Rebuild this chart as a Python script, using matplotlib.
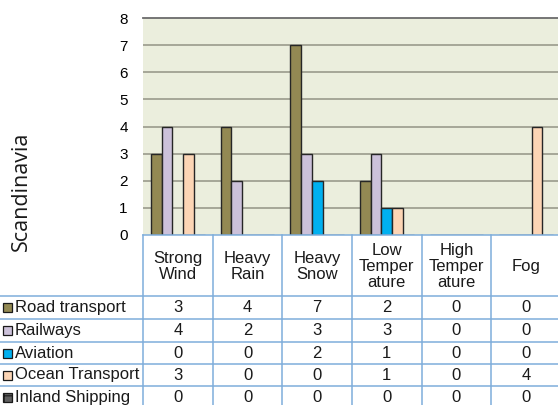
import matplotlib
matplotlib.use("Agg")
import matplotlib.pyplot as plt
from matplotlib.patches import Rectangle
from matplotlib.lines import Line2D
import numpy as np

# ---- data ----
categories = ["Strong\nWind", "Heavy\nRain", "Heavy\nSnow", "Low\nTemper\nature", "High\nTemper\nature", "Fog"]
series_names = ["Road transport", "Railways", "Aviation", "Ocean Transport", "Inland Shipping"]
road_transport = [3, 4, 7, 2, 0, 0]
railways = [4, 2, 3, 3, 0, 0]
aviation = [0, 0, 2, 1, 0, 0]
ocean_transport = [3, 0, 0, 1, 0, 4]
inland_shipping = [0, 0, 0, 0, 0, 0]
y_ticks = [0, 1, 2, 3, 4, 5, 6, 7, 8]
y_label = "Scandinavia"

series_values = [road_transport, railways, aviation, ocean_transport, inland_shipping]
colors = ["#938953", "#CCC1DA", "#00B0F0", "#FCD5B5", "#5E5E5E"]

W, H = 558, 405
fig = plt.figure(figsize=(W / 100, H / 100), dpi=100)
plt.rcParams["font.family"] = ["Liberation Sans", "DejaVu Sans"]
plt.rcParams["hatch.linewidth"] = 0.8


def fx(px):
    return px / W


def fy(py):
    return 1 - py / H


# plot area in pixel coordinates
left, right, top, bottom = 143, 561, 18, 235
ax = fig.add_axes([fx(left), fy(bottom), fx(right - left), fy(top) - fy(bottom)])
ax.set_facecolor("#EBEEDD")
n_cat = len(categories)
n_ser = len(series_values)
bw = 1 / (n_ser + 1.5)
x = np.arange(n_cat)
for j, (vals, c) in enumerate(zip(series_values, colors)):
    ax.bar(x + (j - (n_ser - 1) / 2) * bw, vals, width=bw, color=c,
           edgecolor="#262626", linewidth=1.0, zorder=3)
ax.set_xlim(-0.5, n_cat - 0.5)
ax.set_ylim(0, 8)
ax.set_yticks(y_ticks)
ax.set_yticklabels([str(t) for t in y_ticks], fontsize=11)
ax.tick_params(axis="y", length=0, pad=11)
ax.set_xticks([])
for t in y_ticks[1:-1]:
    ax.axhline(t, color="#9A9A8C", linewidth=1.2, zorder=1)
for s in ["left", "right", "bottom"]:
    ax.spines[s].set_visible(False)
ax.spines["top"].set_color("#6B6B6B")
ax.spines["top"].set_linewidth(1.3)

# y-axis title
fig.text(fx(21), fy(191), y_label, rotation=90, ha="center", va="center",
         fontsize=15.5, family=["Open Sans", "DejaVu Sans"], color="#1a1a1a")

# ---- data table below the chart ----
grid_c = "#7EADDB"
cw = (right - left) / n_cat
row_edges = [296, 319, 342, 364, 386, 409]
fs = 12


def hline(y, x0, x1, c=grid_c, lw=1.1):
    fig.add_artist(Line2D([fx(x0), fx(x1)], [fy(y), fy(y)], color=c, linewidth=lw))


def vline(xp, y0, y1, c=grid_c, lw=1.1):
    fig.add_artist(Line2D([fx(xp), fx(xp)], [fy(y0), fy(y1)], color=c, linewidth=lw))


hline(bottom, left, right)
for y in row_edges[:-1]:
    hline(y, 0, right)
for i in range(n_cat + 1):
    vline(left + i * cw, bottom, H + 5)

# column headers
for i, cat in enumerate(categories):
    fig.text(fx(left + (i + 0.5) * cw), fy((bottom + row_edges[0]) / 2 + 1), cat,
             ha="center", va="center", fontsize=fs, linespacing=1.08,
             color="#1a1a1a")

# rows: legend key + name + values
for r, (name, vals, c) in enumerate(zip(series_names, series_values, colors)):
    yc = (row_edges[r] + row_edges[r + 1]) / 2
    last = r == n_ser - 1
    key = Rectangle((fx(3), fy(yc + 4.5)), fx(9), fy(yc - 4.5) - fy(yc + 4.5),
                    facecolor=c, edgecolor="#1a1a1a", linewidth=0.9,
                    transform=fig.transFigure,
                    hatch="++" if last else None)
    fig.add_artist(key)
    fig.text(fx(15), fy(yc), name, ha="left", va="center", fontsize=fs,
             color="#1a1a1a")
    for i, v in enumerate(vals):
        fig.text(fx(left + (i + 0.5) * cw), fy(yc), str(v), ha="center",
                 va="center", fontsize=fs, color="#1a1a1a")

fig.savefig("out.png", dpi=100)
